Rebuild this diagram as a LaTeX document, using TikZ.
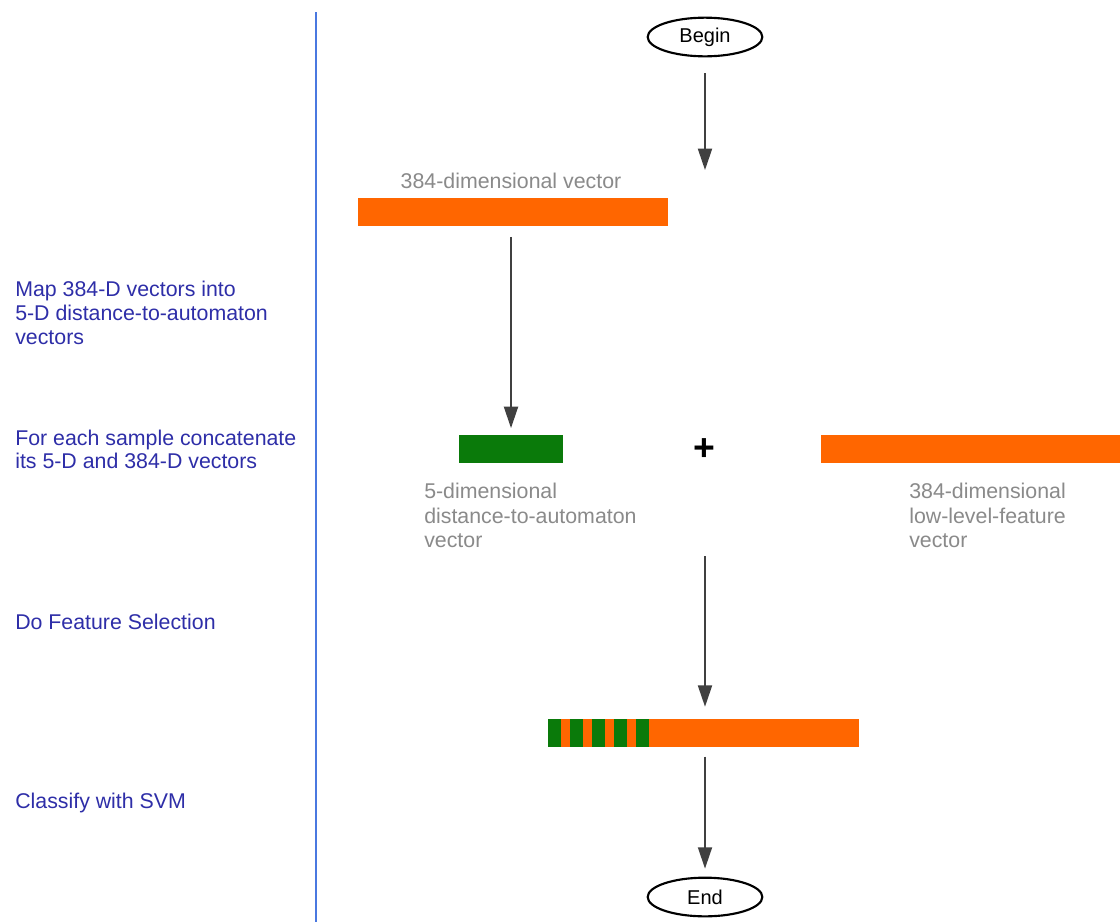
\documentclass[tikz,border=0pt]{standalone}
\usepackage{fontspec}
\setmainfont{Liberation Sans}
\usetikzlibrary{arrows.meta,shapes.geometric}
\definecolor{barorange}{HTML}{FF6600}
\definecolor{bargreen}{HTML}{0A7A0A}
\definecolor{labelgray}{HTML}{8A8A8A}
\definecolor{stepblue}{HTML}{2E2EA8}
\definecolor{lineblue}{HTML}{4A78E0}
\definecolor{arrowgray}{HTML}{404040}
\tikzset{
  term/.style={ellipse,draw=black,line width=1.6pt,minimum width=86pt,minimum height=29pt,inner sep=0pt,font=\fontsize{15}{17}\selectfont},
  obar/.style={fill=barorange,draw=none,inner sep=0pt,minimum height=21pt},
  gbar/.style={fill=bargreen,draw=none,inner sep=0pt,minimum height=21pt},
  glabel/.style={text=labelgray,font=\fontsize{16}{18.3}\selectfont,align=left,inner sep=0pt,anchor=north west},
  steplabel/.style={text=stepblue,font=\fontsize{16}{17.8}\selectfont,align=left,inner sep=0pt,anchor=north west},
  flow/.style={draw=arrowgray,line width=1.4pt,-{Triangle[width=10.5pt,length=16pt]}}
}
\begin{document}
\begin{tikzpicture}[x=0.75pt,y=-0.75pt]
\useasboundingbox (0,0) rectangle (1120,922);
\fill[white] (0,0) rectangle (1120,922);
% separator
\draw[lineblue,line width=1.3pt] (316,12) coordinate (sepTop) -- (316,922) coordinate (sepBot);
% left step texts
\node[steplabel] (s1) at (15,281) {Map 384-D vectors into\\5-D distance-to-automaton\\vectors};
\node[steplabel] (s2) at (15,429.5) {For each sample concatenate\\its 5-D and 384-D vectors};
\node[steplabel] (s3) at (15,613.5) {Do Feature Selection};
\node[steplabel] (s4) at (15,792.5) {Classify with SVM};
% begin / end
\node[term] (begin) at (705,37) {Begin};
\node[term] (end) at (705,897) {End};
% first vector
\node[glabel,anchor=base] (lab384) at (511,188) {384-dimensional vector};
\node[obar,minimum width=232.5pt] (vec384) at (513,212) {};
% green and right orange
\node[gbar,minimum width=78pt] (vec5) at (511,449) {};
\node[font=\fontsize{28}{28}\selectfont\bfseries,inner sep=0pt] (plus) at (704,450) {+};
\node[obar,minimum width=225pt,anchor=west] (vecLow) at (821,449) {};
\node[glabel] (lab5) at (424,483) {5-dimensional\\distance-to-automaton\\vector};
\node[glabel] (labLow) at (909,483) {384-dimensional\\low-level-feature\\vector};
% combined vector
\node[obar,minimum width=233.25pt,anchor=west] (comb) at (548,733) {};
\foreach \i in {0,...,4}{
  \node[gbar,minimum width=9.75pt,anchor=west] (stripe\i) at (548+22*\i,733) {};
}
% arrows
\coordinate (a1e) at (705,170);
\coordinate (a3s) at (705,556);
\draw[flow,shorten <=12pt] (begin) -- (a1e);
\draw[flow,shorten <=8pt,shorten >=5pt] (vec384.south -| vec5) -- (vec5);
\draw[flow,shorten >=9pt] (a3s) -- (comb.north -| a3s);
\draw[flow,shorten <=7pt,shorten >=6pt] (comb.south -| end) -- (end);
\end{tikzpicture}
\end{document}
